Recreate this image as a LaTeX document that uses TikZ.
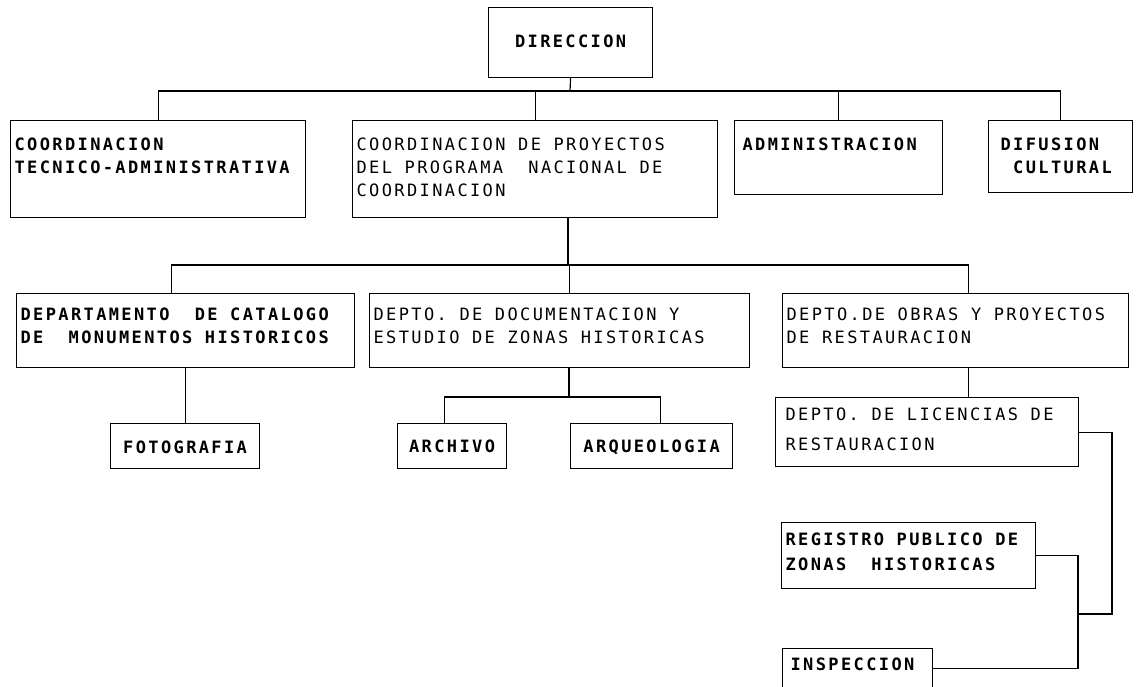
\documentclass[tikz,border=0pt]{standalone}
\usepackage{fontspec}
\newfontfamily\chartfont[LetterSpace=14]{DejaVu Sans Mono}
\usetikzlibrary{
  positioning
}
\tikzset{
  % For the boxes of the chart; the text hangs from the top left corner.
  % Arguments: text width, first baseline below the top, rest of the height.
  unit/.style n args={3}{
    draw,
    line width=1.2pt,
    anchor=north west,
    inner xsep=4pt,
    inner ysep=0pt,
    align=left,
    font=\chartfont\bfseries\fontsize{17pt}{23pt}\selectfont,
    execute at begin node={\spaceskip=12.6pt\relax\xspaceskip=12.6pt\relax},
    text width=#1,
    text height=#2,
    text depth=#3},
%
  % For boxes holding one centred word.
  word/.style={
    align=center},
%
  % For the lighter lettering of some boxes.
  light/.style={
    font=\chartfont\mdseries\fontsize{17pt}{23pt}\selectfont},
%
  % For the connecting lines.
  link/.style={
    line width=1.2pt}
}

\begin{document}
\begin{tikzpicture}[x=1pt, y=-1pt]
  \useasboundingbox (0,0) rectangle (1137,687);

  % Top level.
  \node[unit={156pt}{40pt}{30pt}, word] (direccion) at (488,7) {DIRECCION};

  % Second level.
  \node[unit={287pt}{30pt}{67pt}] (tecnico) at (10,120)
    {COORDINACION\\TECNICO-ADMINISTRATIVA};
  \node[unit={357pt}{30pt}{67pt}, light] (proyectos) at (352,120)
    {COORDINACION DE PROYECTOS\\DEL PROGRAMA\ \ NACIONAL DE\\COORDINACION};
  \node[unit={200pt}{30pt}{44pt}] (administracion) at (734,120)
    {\hspace*{4pt}ADMINISTRACION};
  \node[unit={136pt}{30pt}{42pt}] (difusion) at (988,120)
    {\hspace*{8pt}DIFUSION\\\hspace*{8pt}\ CULTURAL};

  % Departments.
  \node[unit={330pt}{27pt}{47pt}] (catalogo) at (16,293)
    {DEPARTAMENTO\ \ DE CATALOGO\\DE\ \ MONUMENTOS HISTORICOS};
  \node[unit={372pt}{27pt}{47pt}, light] (documentacion) at (369,293)
    {DEPTO. DE DOCUMENTACION Y\\ESTUDIO DE ZONAS HISTORICAS};
  \node[unit={338pt}{27pt}{47pt}, light] (obras) at (782,293)
    {DEPTO.DE OBRAS Y PROYECTOS\\DE RESTAURACION};

  % Offices.
  \node[unit={141pt}{30pt}{15pt}, word] (fotografia) at (110,423) {FOTOGRAFIA};
  \node[unit={101pt}{29pt}{16pt}, word] (archivo) at (397,423) {ARCHIVO};
  \node[unit={154pt}{29pt}{16pt}, word] (arqueologia) at (570,423) {ARQUEOLOGIA};
  \node[unit={295pt}{23pt}{46pt}, light] (licencias) at (775,397)
    {\hspace*{6pt}DEPTO. DE LICENCIAS DE\\[7pt]\hspace*{6pt}RESTAURACION};
  \node[unit={246pt}{23pt}{43pt}] (registro) at (781,522)
    {REGISTRO PUBLICO DE\\[2pt]ZONAS\ \ HISTORICAS};
  \node[unit={142pt}{22pt}{17pt}] (inspeccion) at (782,648)
    {\hspace*{4pt}INSPECCION};

  % Lines from the top.
  \coordinate (top bus) at (570,91);
  \draw[link] (direccion.south) -- (top bus);
  \foreach \unit in {tecnico, proyectos, administracion, difusion}
    \draw[link] (top bus) -| (\unit.north);

  % Lines to the departments.
  \coordinate (mid bus) at (568,265);
  \draw[link] (proyectos.south -| mid bus) -- (mid bus);
  \foreach \unit/\shift in {catalogo/-14, documentacion/10, obras/13}
    \draw[link] (mid bus) -| ([xshift=\shift pt]\unit.north);

  % Lines to the offices.
  \draw[link] (catalogo.south) -- (catalogo.south |- fotografia.north);
  \coordinate (low bus) at (569,397);
  \draw[link] (documentacion.south -| low bus) -- (low bus);
  \foreach \unit/\shift in {archivo/-8, arqueologia/9}
    \draw[link] (low bus) -| ([xshift=\shift pt]\unit.north);
  \draw[link] ([xshift=13pt]obras.south) -- ([xshift=13pt]obras.south |- licencias.north);

  % The bracket on the right.
  \coordinate (rail) at (1112,614);
  \coordinate (join) at (1078,614);
  \draw[link] (licencias.east) -| (rail) -- (join);
  \draw[link] (registro.east) -| (join);
  \draw[link] (inspeccion.east) -| (join);
\end{tikzpicture}
\end{document}
